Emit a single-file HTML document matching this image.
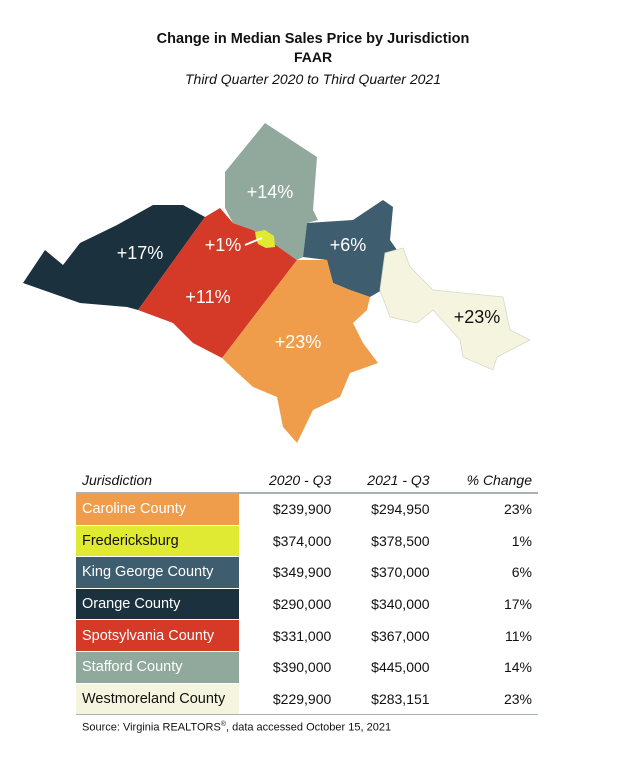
<!DOCTYPE html>
<html><head><meta charset="utf-8"><style>
body{margin:0;background:#fff;width:626px;height:767px;overflow:hidden;font-family:"Liberation Sans",sans-serif;position:relative}
.t{position:absolute;left:0;width:626px;text-align:center;color:#111}
table{position:absolute;left:76px;top:468px;width:462px;border-collapse:collapse;font-size:14px;color:#111}
th{font-weight:normal;font-style:italic;height:24px;padding:0 6px;border-bottom:2px solid #a9b1b1;text-align:right}
th:first-child{text-align:left}
td{height:30.6px;padding:0 6px;text-align:right;border-bottom:1.5px solid #fff}
td:first-child{text-align:left;width:151px;color:#fff;font-size:14.5px}
tr:last-child td{border-bottom:1.5px solid #a9b1b1}
</style></head><body>
<div class="t" style="top:31px;font-weight:bold;font-size:14.5px">Change in Median Sales Price by Jurisdiction</div>
<div class="t" style="top:49px;font-weight:bold;font-size:14px">FAAR</div>
<div class="t" style="top:71px;font-style:italic;font-size:14px">Third Quarter 2020 to Third Quarter 2021</div>
<svg width="626" height="460" style="position:absolute;left:0;top:0" font-family="Liberation Sans,sans-serif" font-size="18">
<polygon fill="#1b313e" points="23,283 45,250 63,265 80,243 117,225 153,205 183,205 205,217 138,310 127,307 80,303"/>
<polygon fill="#d43a27" points="205,217 220,208 233,223 253,230 273,243 297,260 222,358 193,343 173,323 138,310"/>
<polygon fill="#91a89c" points="225,172 265,123 317,157 313,210 318,220 307,223 303,257 297,260 273,243 253,230 233,223 225,208"/>
<polygon fill="#3e5d6e" points="307,223 353,220 383,200 393,207 390,240 397,250 385,253 382,290 370,297 350,290 333,283 327,260 303,257"/>
<polygon fill="#ef9d4a" points="297,260 327,260 333,283 350,290 370,297 367,310 353,323 363,343 378,363 350,373 340,397 313,410 297,443 283,427 277,397 253,387 227,363 222,358"/>
<polygon fill="#f5f5df" stroke="#d8d8c8" stroke-width="0.8" points="385,253 403,248 410,267 433,290 503,297 510,330 530,340 497,357 493,370 463,357 460,340 433,310 417,323 390,317 380,290"/>
<polygon fill="#e0ea32" points="255,232 265,230 274,236 275,247 266,248 258,244 256,238"/>
<line x1="245" y1="245" x2="262" y2="238" stroke="#fff" stroke-width="2"/>
<g fill="#fff" text-anchor="middle">
<text x="270" y="198">+14%</text><text x="140" y="259">+17%</text><text x="223" y="251">+1%</text>
<text x="348" y="251">+6%</text><text x="208" y="303">+11%</text><text x="298" y="348">+23%</text>
<text x="477" y="323" fill="#111">+23%</text></g>
</svg>
<table>
<tr><th>Jurisdiction</th><th>2020 - Q3</th><th>2021 - Q3</th><th>% Change</th></tr>
<tr><td style="background:#ef9d4a">Caroline County</td><td>$239,900</td><td>$294,950</td><td>23%</td></tr>
<tr><td style="background:#e0ea32;color:#111">Fredericksburg</td><td>$374,000</td><td>$378,500</td><td>1%</td></tr>
<tr><td style="background:#3e5d6e">King George County</td><td>$349,900</td><td>$370,000</td><td>6%</td></tr>
<tr><td style="background:#1b313e">Orange County</td><td>$290,000</td><td>$340,000</td><td>17%</td></tr>
<tr><td style="background:#d43a27">Spotsylvania County</td><td>$331,000</td><td>$367,000</td><td>11%</td></tr>
<tr><td style="background:#91a89c">Stafford County</td><td>$390,000</td><td>$445,000</td><td>14%</td></tr>
<tr><td style="background:#f5f5df;color:#111">Westmoreland County</td><td>$229,900</td><td>$283,151</td><td>23%</td></tr>
</table>
<div style="position:absolute;left:82px;top:721px;font-size:11px;color:#111">Source: Virginia REALTORS<sup style="font-size:7px">®</sup>, data accessed October 15, 2021</div>
</body></html>
